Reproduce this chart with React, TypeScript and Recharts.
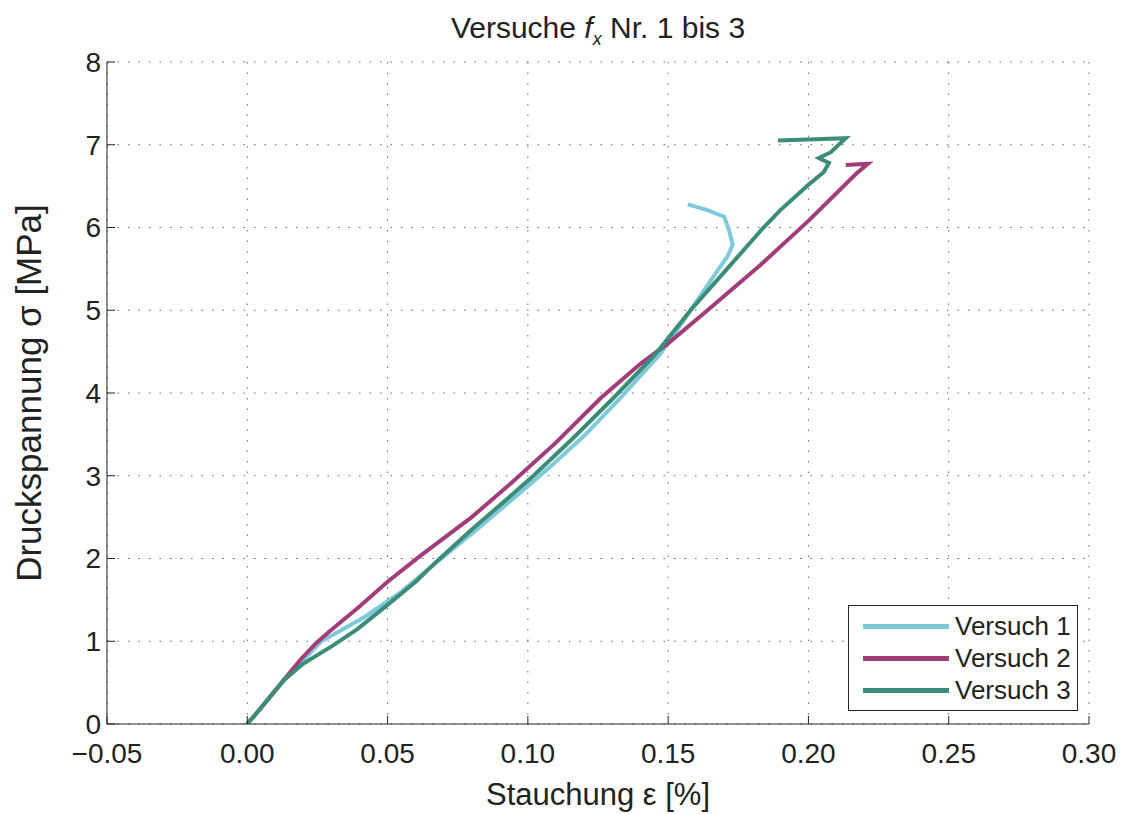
import React from "react";
import {
  CartesianGrid,
  Legend,
  Line,
  LineChart,
  XAxis,
  YAxis,
} from "recharts";

// Versuch 1
const v1Strain = [
  0, 0.005, 0.013, 0.0264, 0.0417, 0.055, 0.0655, 0.08, 0.094, 0.107, 0.12,
  0.133, 0.1474, 0.156, 0.1628, 0.168, 0.171, 0.173, 0.1717, 0.17, 0.164, 0.157,
];
const v1Stress = [
  0, 0.2, 0.53, 1.0, 1.29, 1.6, 1.9, 2.3, 2.7, 3.08, 3.48, 3.94, 4.48, 4.9,
  5.24, 5.5, 5.64, 5.79, 5.97, 6.13, 6.21, 6.28,
];

// Versuch 2
const v2Strain = [
  0, 0.005, 0.013, 0.019, 0.0246, 0.03, 0.04, 0.05, 0.062, 0.08, 0.094, 0.11,
  0.126, 0.14, 0.15, 0.163, 0.183, 0.2, 0.217, 0.2212, 0.2133,
];
const v2Stress = [
  0, 0.2, 0.53, 0.78, 0.98, 1.14, 1.42, 1.72, 2.04, 2.5, 2.91, 3.4, 3.94, 4.35,
  4.6, 4.97, 5.55, 6.08, 6.65, 6.77, 6.755,
];

// Versuch 3
const v3Strain = [
  0, 0.005, 0.013, 0.02, 0.0306, 0.039, 0.05, 0.06, 0.068, 0.08, 0.094, 0.102,
  0.116, 0.1305, 0.145, 0.158, 0.171, 0.184, 0.19, 0.1998, 0.2055, 0.2073,
  0.2037, 0.208, 0.2133, 0.1891,
];
const v3Stress = [
  0, 0.2, 0.53, 0.73, 0.95, 1.14, 1.44, 1.72, 1.98, 2.35, 2.76, 3.0, 3.45, 3.94,
  4.45, 5.0, 5.5, 6.0, 6.21, 6.51, 6.67, 6.78, 6.84, 6.91, 7.08, 7.05,
];

const xTicks = [-0.05, 0, 0.05, 0.1, 0.15, 0.2, 0.25, 0.3];
const yTicks = [0, 1, 2, 3, 4, 5, 6, 7, 8];

const toPoints = (xs: number[], ys: number[]) =>
  xs.map((x, i) => ({ x, y: ys[i] }));

const series = [
  { name: "Versuch 1", color: "#7ecada", data: toPoints(v1Strain, v1Stress) },
  { name: "Versuch 2", color: "#a13d79", data: toPoints(v2Strain, v2Stress) },
  { name: "Versuch 3", color: "#3b8c78", data: toPoints(v3Strain, v3Stress) },
];

const FONT = "'Liberation Sans', Arial, Helvetica, sans-serif";

function LegendBox({ payload }: any) {
  return (
    <div
      style={{
        border: "1.5px solid #222",
        background: "#fff",
        padding: "4px 0 4px 14px",
        boxSizing: "border-box",
        width: 230,
      }}
    >
      {(payload || []).map((p: any) => (
        <div
          key={p.value}
          style={{ display: "flex", alignItems: "center", height: 32 }}
        >
          <span
            style={{
              display: "inline-block",
              width: 86,
              height: 5,
              background: p.color,
              marginRight: 6,
            }}
          />
          <span style={{ fontSize: 26, color: "#222" }}>{p.value}</span>
        </div>
      ))}
    </div>
  );
}

export default function App() {
  const fmtX = (v: number) =>
    v < 0 ? "\u2212" + Math.abs(v).toFixed(2) : v.toFixed(2);

  return (
    <div
      style={{
        position: "relative",
        width: 1120,
        height: 806,
        fontFamily: FONT,
        background: "#fff",
      }}
    >
      <div
        style={{
          position: "absolute",
          top: 3,
          left: 99,
          width: 982,
          textAlign: "center",
          fontSize: 30,
          color: "#222",
        }}
      >
        Versuche <i>f</i>
        <sub style={{ fontSize: 18 }}>
          <i>x</i>
        </sub>{" "}
        Nr. 1 bis 3
      </div>
      <LineChart
        width={1120}
        height={806}
        margin={{ top: 54, right: 39, bottom: 0, left: 0 }}
        style={{ fontFamily: FONT }}
      >
        <CartesianGrid stroke="#666" strokeDasharray="1.5 9" />
        <XAxis
          type="number"
          dataKey="x"
          domain={[-0.05, 0.3]}
          ticks={xTicks}
          tickFormatter={fmtX}
          height={90}
          stroke="#222"
          tick={{ fill: "#222", fontSize: 28 }}
          tickSize={-8}
          tickMargin={27}
          allowDataOverflow
          label={{
            value: "Stauchung ε [%]",
            position: "insideBottom",
            offset: 9,
            fill: "#222",
            fontSize: 31,
          }}
        />
        <XAxis
          xAxisId="top"
          orientation="top"
          type="number"
          dataKey="x"
          domain={[-0.05, 0.3]}
          ticks={xTicks}
          height={0}
          stroke="#222"
          tick={false}
          tickSize={-8}
        />
        <YAxis
          type="number"
          domain={[0, 8]}
          ticks={yTicks}
          width={99}
          stroke="#222"
          tick={{ fill: "#222", fontSize: 28 }}
          tickSize={-8}
          tickMargin={14}
          allowDataOverflow
          label={{
            value: "Druckspannung σ [MPa]",
            angle: -90,
            position: "insideLeft",
            offset: 21,
            fill: "#222",
            fontSize: 35,
            style: { textAnchor: "middle" },
          }}
        />
        <YAxis
          yAxisId="right"
          orientation="right"
          type="number"
          domain={[0, 8]}
          ticks={yTicks}
          width={0}
          stroke="#222"
          tick={false}
          tickSize={-8}
        />
        <Legend
          layout="vertical"
          align="center"
          verticalAlign="middle"
          content={<LegendBox />}
          wrapperStyle={{ left: 840, top: 597, width: 230 }}
        />
        {series.map((s) => (
          <Line
            key={s.name}
            name={s.name}
            data={s.data}
            dataKey="y"
            type="linear"
            stroke={s.color}
            strokeWidth={4}
            dot={false}
            activeDot={false}
            isAnimationActive={false}
          />
        ))}
      </LineChart>
    </div>
  );
}
